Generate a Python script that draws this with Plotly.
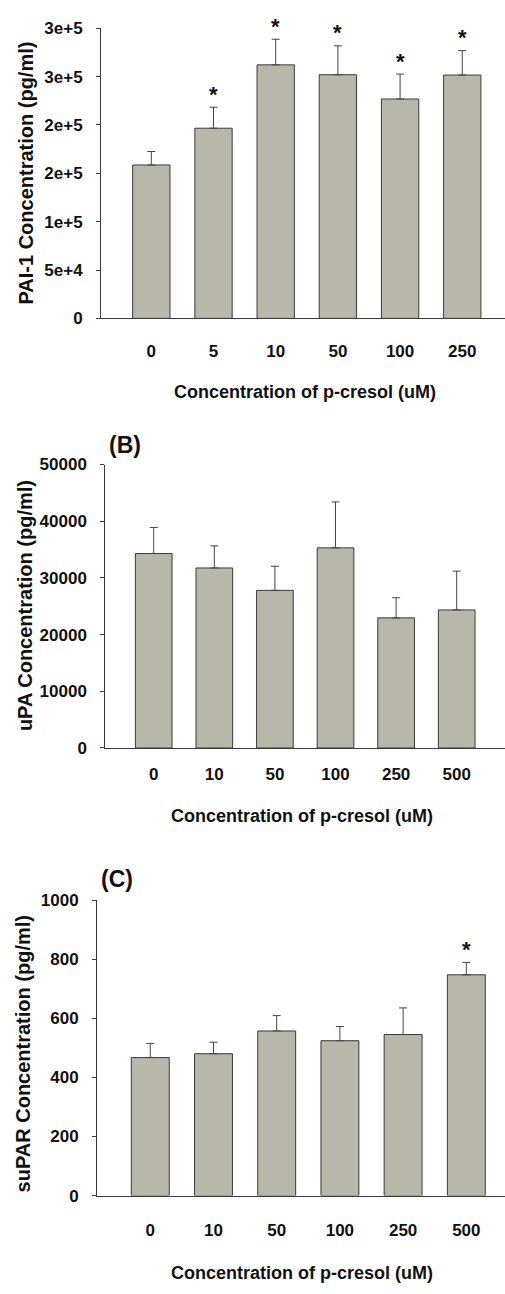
import plotly.graph_objects as go

# ---- data ----
cats_a = ["0", "5", "10", "50", "100", "250"]
pai1_mean = [158600, 196600, 262100, 251900, 226800, 251600]
pai1_err = [13900, 21700, 26500, 29900, 25800, 25200]
pai1_sig = [False, True, True, True, True, True]
ytick_vals_a = [0, 50000, 100000, 150000, 200000, 250000, 300000]
ytick_text_a = ["0", "5e+4", "1e+5", "2e+5", "2e+5", "3e+5", "3e+5"]

cats_b = ["0", "10", "50", "100", "250", "500"]
upa_mean = [34300, 31750, 27800, 35300, 22950, 24350]
upa_err = [4600, 3900, 4250, 8100, 3550, 6850]
upa_sig = [False] * 6
ytick_vals_b = [0, 10000, 20000, 30000, 40000, 50000]

cats_c = ["0", "10", "50", "100", "250", "500"]
supar_mean = [467, 480, 557, 524, 545, 747]
supar_err = [48, 39, 52, 48, 90, 42]
supar_sig = [False, False, False, False, False, True]
ytick_vals_c = [0, 200, 400, 600, 800, 1000]

xtitle = "Concentration of p-cresol (uM)"

W, H = 505, 1294
BAR = "#b8b8aa"
EDGE = "#3a3a3a"
TXT = "#111111"
FONT = "Liberation Sans, Arial, sans-serif"

def py(pix):
    return 1 - pix / H

panels = [
    dict(cats=cats_a, mean=pai1_mean, err=pai1_err, sig=pai1_sig,
         yrange=[0, 300000], tv=ytick_vals_a, tt=ytick_text_a,
         ytitle="PAI-1 Concentration (pg/ml)", label=None,
         xdom=[101 / W, 1], ydom=[py(314), py(19.5)],
         xrange=[-0.809, 5.687], width=0.6, xstand=17,
         ytitle_xy=(26, 167), xtitle_xy=(305, 389), label_xy=None),
    dict(cats=cats_b, mean=upa_mean, err=upa_err, sig=upa_sig,
         yrange=[0, 50000], tv=ytick_vals_b, tt=[str(v) for v in ytick_vals_b],
         ytitle="uPA Concentration (pg/ml)", label="(B)",
         xdom=[105.3 / W, 1], ydom=[py(750), py(462.3)],
         xrange=[-0.799, 5.797], width=0.605, xstand=11,
         ytitle_xy=(25, 606), xtitle_xy=(302, 819), label_xy=(107, 443)),
    dict(cats=cats_c, mean=supar_mean, err=supar_err, sig=supar_sig,
         yrange=[0, 1000], tv=ytick_vals_c, tt=[str(v) for v in ytick_vals_c],
         ytitle="suPAR Concentration (pg/ml)", label="(C)",
         xdom=[97 / W, 1], ydom=[py(1204.3), py(904.3)],
         xrange=[-0.843, 5.612], width=0.6, xstand=19,
         ytitle_xy=(23, 1061), xtitle_xy=(302, 1283), label_xy=(99, 883)),
]

fig = go.Figure()
annotations = []
layout = {}
for i, p in enumerate(panels, start=1):
    xa = "x" if i == 1 else f"x{i}"
    ya = "y" if i == 1 else f"y{i}"
    fig.add_trace(go.Bar(
        x=list(range(len(p["cats"]))), y=p["mean"], width=p["width"],
        marker=dict(color=BAR, line=dict(color=EDGE, width=1)),
        error_y=dict(type="data", symmetric=False, array=p["err"],
                     arrayminus=[0] * len(p["err"]), color="#444444",
                     thickness=1, width=4),
        xaxis=xa, yaxis=ya, showlegend=False, hoverinfo="skip"))
    layout[("xaxis" if i == 1 else f"xaxis{i}")] = dict(
        domain=p["xdom"], anchor=ya, range=p["xrange"],
        tickvals=list(range(len(p["cats"]))),
        ticktext=[f"<b>{c}</b>" for c in p["cats"]],
        showline=True, linecolor=EDGE, linewidth=1, ticks="",
        showgrid=False, zeroline=False, ticklabelstandoff=p["xstand"],
        tickfont=dict(family=FONT, size=17, color=TXT))
    layout[("yaxis" if i == 1 else f"yaxis{i}")] = dict(
        domain=p["ydom"], anchor=xa, range=p["yrange"],
        tickvals=p["tv"], ticktext=[f"<b>{t}</b>" for t in p["tt"]],
        showline=True, linecolor=EDGE, linewidth=1, ticks="outside",
        ticklen=4, tickcolor=EDGE, showgrid=False, zeroline=False,
        ticklabelstandoff=10,
        tickfont=dict(family=FONT, size=17, color=TXT))
    tx, ty = p["ytitle_xy"]
    annotations.append(dict(text=f"<b>{p['ytitle']}</b>", x=tx / W, y=py(ty),
                            xref="paper", yref="paper", showarrow=False,
                            textangle=-90, xanchor="center", yanchor="middle",
                            font=dict(family=FONT, size=20, color=TXT)))
    tx, ty = p["xtitle_xy"]
    annotations.append(dict(text=f"<b>{xtitle}</b>", x=tx / W, y=py(ty),
                            xref="paper", yref="paper", showarrow=False,
                            xanchor="center", yanchor="middle",
                            font=dict(family=FONT, size=18, color=TXT)))
    if p["label"]:
        lx, ly = p["label_xy"]
        annotations.append(dict(text=f"<b>{p['label']}</b>", x=lx / W, y=py(ly),
                                xref="paper", yref="paper", showarrow=False,
                                xanchor="left", yanchor="middle",
                                font=dict(family=FONT, size=23, color=TXT)))
    for j, s in enumerate(p["sig"]):
        if s:
            annotations.append(dict(text="<b>*</b>", x=j, y=p["mean"][j] + p["err"][j],
                                    xref=xa, yref=ya, showarrow=False,
                                    xanchor="center", yanchor="middle", yshift=13,
                                    font=dict(family=FONT, size=22, color=TXT)))

fig.update_layout(width=W, height=H, margin=dict(l=0, r=0, t=0, b=0),
                  paper_bgcolor="white", plot_bgcolor="white",
                  font=dict(family=FONT), annotations=annotations, **layout)

fig.write_html("out.html", config={"displayModeBar": False},
               post_script="document.body.style.margin='0';document.body.style.padding='0';")
